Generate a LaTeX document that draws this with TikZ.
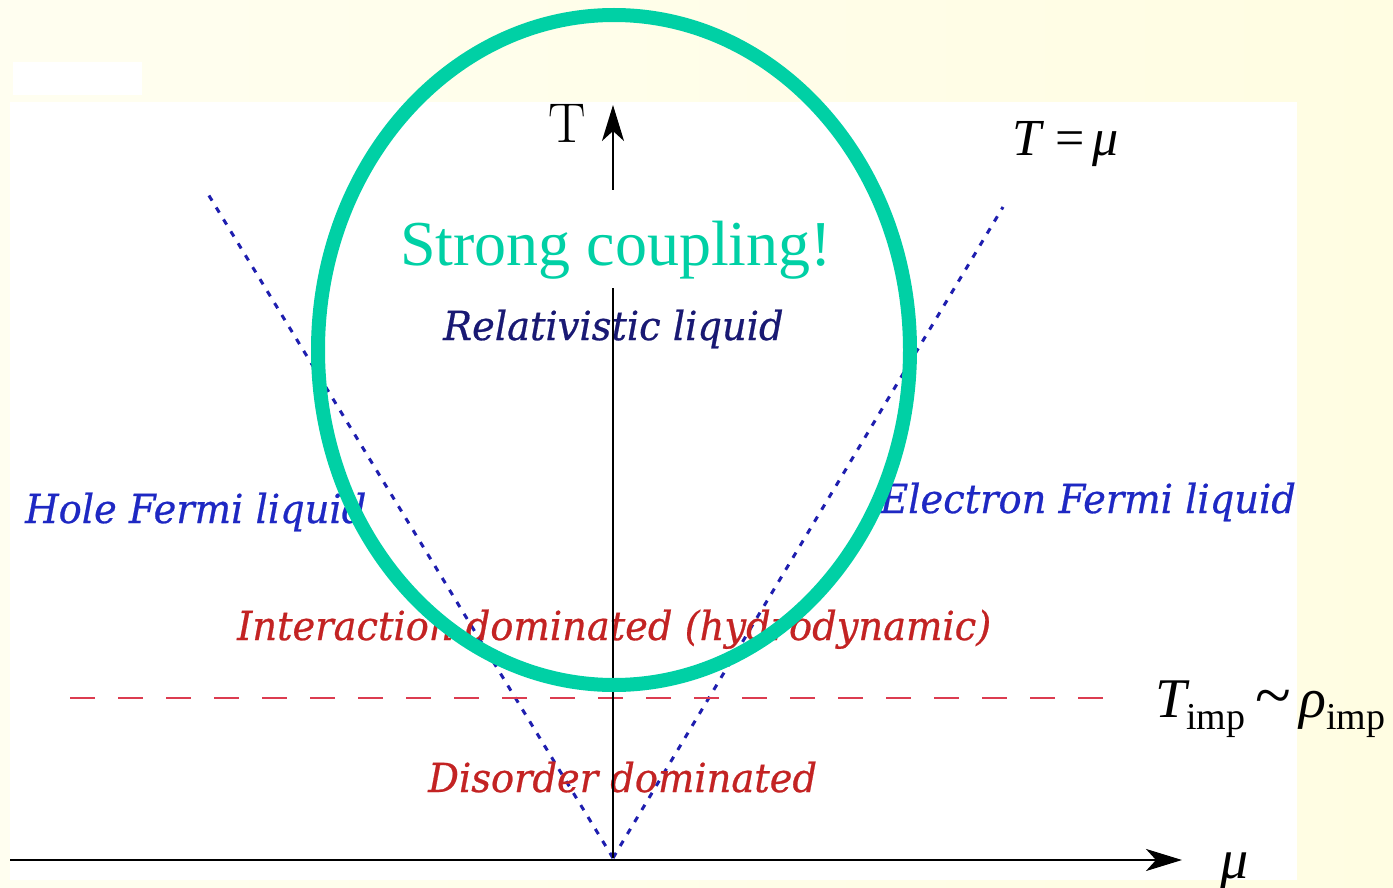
\documentclass[tikz,border=0pt]{standalone}
\usepackage{fontspec}
\usetikzlibrary{arrows.meta}
\newfontfamily\timesfont{Liberation Serif}
\newfontfamily\labelfont[FakeStretch=0.96,FakeBold=0.6]{DejaVu Serif}
\definecolor{paleyellow}{RGB}{255,253,226}
\definecolor{lightyellow}{RGB}{255,254,240}
\definecolor{coupling}{RGB}{0,208,165}
\definecolor{navyblue}{RGB}{25,25,115}
\definecolor{fermiblue}{RGB}{30,40,195}
\definecolor{linesblue}{RGB}{30,30,175}
\definecolor{regionred}{RGB}{195,35,35}
\definecolor{imppink}{RGB}{220,60,80}
\begin{document}
\begin{tikzpicture}[x=1pt,y=-1pt,>={Stealth[length=36pt,width=22pt,inset=10pt]},
	region/.style={font=\labelfont\itshape\fontsize{40}{44}\selectfont,inner sep=0pt,anchor=base west},
	formula/.style={font=\timesfont\fontsize{50}{54}\selectfont,inner sep=0pt,anchor=base west},
	crossover/.style={linesblue,line width=3pt,dash pattern=on 6pt off 8pt}]
			\useasboundingbox (0,0) rectangle (1393,888);
			% slide background
			\shade[left color=lightyellow,right color=paleyellow] (0,0) rectangle (1393,888);
			\fill[white] (13,62) rectangle (142,95);
			\fill[white] (10,102) rectangle (1297,880);
			\begin{scope}
			\clip (10,102) rectangle (1297,880);
			% crossover lines T = mu
			\coordinate (O) at (613,858);
			\coordinate (hole) at (208,194);
			\coordinate (elec) at (1003,207);
			\draw[crossover] (O) -- (hole);
			\draw[crossover] (O) -- (elec);
			% disorder scale
			\coordinate (impL) at (70,698);
			\coordinate (impR) at (1107,698);
			\draw[imppink,line width=2pt,dash pattern=on 25pt off 23pt] (impL) -- (impR);
			\node[region,navyblue] (rel) at (443,340) {Relativistic liquid};
			\node[region,fermiblue] (hfl) at (25,523) {Hole Fermi liquid};
			\node[region,fermiblue] (efl) at (880,513) {Electron Fermi liquid};
			\node[region,regionred] (inter) at (237,640) {Interaction dominated (hydrodynamic)};
			\node[region,regionred] (dis) at (428,792) {Disorder dominated};
			\end{scope}
			% axes
			\coordinate (Ttip) at (613,105);
			\coordinate (mutip) at (1182,860);
			\coordinate (mutail) at (10,860);
			\draw[->,line width=2.2pt] (O) -- (Ttip);
			\draw[->,line width=2.8pt] (mutail) -- (mutip);
			\node[inner sep=0pt,anchor=base east,font=\fontsize{56}{60}\selectfont] (Tlab) at (586,143) {T};
			\node[formula,font=\timesfont\itshape\fontsize{56}{60}\selectfont] (mulab) at (1220,878) {μ};
			\node[formula,font=\timesfont\fontsize{52}{56}\selectfont] (Tmu) at (1012,156) {\itshape T\hspace{14pt}\upshape=\hspace{8pt}\itshape μ};
			\node[formula,font=\timesfont\fontsize{56}{60}\selectfont] (Timp) at (1155,717)
				{\itshape T\upshape\raisebox{-12pt}{\fontsize{38}{40}\selectfont imp}\hspace{10pt}{\fontsize{66}{66}\selectfont\textasciitilde}\hspace{8pt}\itshape ρ\upshape\raisebox{-12pt}{\fontsize{38}{40}\selectfont imp}};
			% strong coupling region
			\fill[white] (395,190) rectangle (836,288);
			\node[inner sep=0pt,anchor=base,font=\timesfont\fontsize{64}{68}\selectfont,text=coupling] (strong) at (616,265) {Strong coupling!};
			\draw[coupling,line width=14pt] (614,350) ellipse [x radius=296pt,y radius=335pt];
		\end{tikzpicture}
\end{document}
